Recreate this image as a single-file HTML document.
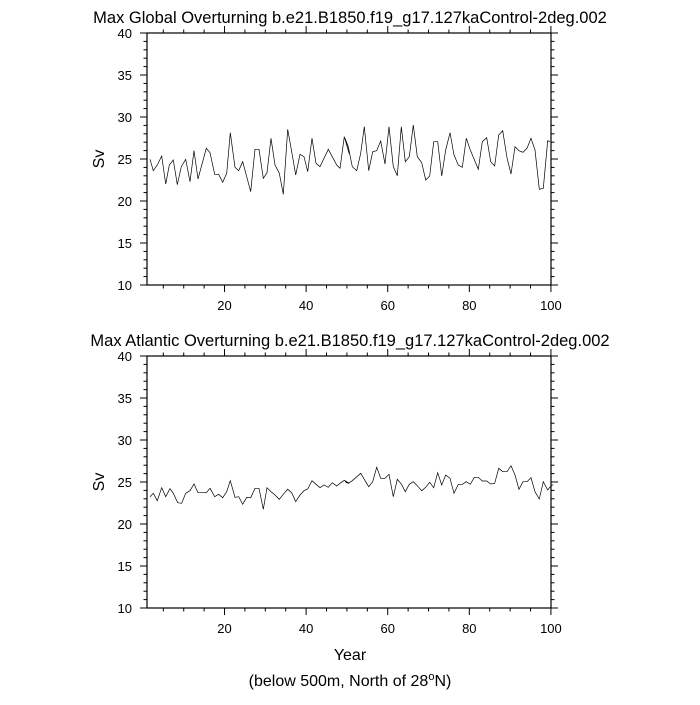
<!DOCTYPE html>
<html><head><meta charset="utf-8"><style>
body{margin:0;background:#fff}
svg{font-family:"Liberation Sans",sans-serif}
</style></head><body>
<svg id="s" width="700" height="700" xmlns="http://www.w3.org/2000/svg">
<rect width="700" height="700" fill="#fff"/>
<text x="350" y="23" font-size="16.5" text-anchor="middle">Max Global Overturning b.e21.B1850.f19_g17.127kaControl-2deg.002</text>
<text x="350" y="346" font-size="16.5" text-anchor="middle">Max Atlantic Overturning b.e21.B1850.f19_g17.127kaControl-2deg.002</text>
<text x="350" y="660" font-size="16" text-anchor="middle">Year</text>
<text x="350" y="686" font-size="16" text-anchor="middle">(below 500m, North of 28<tspan dy="-6" font-size="11">o</tspan><tspan dy="6">N)</tspan></text>
<text transform="translate(104,159) rotate(-90)" font-size="16" text-anchor="middle">Sv</text>
<text transform="translate(104,482) rotate(-90)" font-size="16" text-anchor="middle">Sv</text>
</svg>
<script>
var s=document.getElementById('s'),NS='http://www.w3.org/2000/svg';
function el(t,a,txt){var e=document.createElementNS(NS,t);for(var k in a)e.setAttribute(k,a[k]);if(txt!=null)e.textContent=txt;s.appendChild(e);return e;}
var X0=147,X1=551;function xp(yr){return 147+(yr-1)*4.08;}
function axes(top){var bot=top+252;
 el('rect',{x:X0,y:top,width:X1-X0,height:252,fill:'none',stroke:'#000','stroke-width':1.2});
 for(var v=10;v<=40;v++){var y=bot-(v-10)*8.4,L=(v%5==0)?7:3.5;
  el('line',{x1:X0,x2:X0-L,y1:y,y2:y,stroke:'#000'});el('line',{x1:X1,x2:X1+L,y1:y,y2:y,stroke:'#000'});
  if(v%5==0)el('text',{x:X0-15,y:y+5,'font-size':13,'text-anchor':'end'},v);}
 for(var yr=5;yr<=100;yr+=5){var x=xp(yr),L=(yr%20==0)?7:3.5;
  el('line',{x1:x,x2:x,y1:bot,y2:bot+L,stroke:'#000'});el('line',{x1:x,x2:x,y1:top,y2:top-L,stroke:'#000'});
  if(yr%20==0)el('text',{x:x,y:bot+25,'font-size':13,'text-anchor':'middle'},yr);}
}
axes(33);axes(356);
function line(ox,oy,pts){var p=[];for(var i=0;i<pts.length;i+=2)p.push((ox+pts[i]/3).toFixed(1)+','+(oy+pts[i+1]/3).toFixed(1));return p;}
var a=line(140,110,[30,148,40,182,52,165,65,138,77,222,88,165,100,150,112,224,124,170,137,148,150,215,162,122,174,207,199,115,210,128,224,193,236,193,248,217,260,190,271,68,285,172,296,182,308,155,332,245,345,118,357,118,370,205,381,188,393,85,405,165,418,190,430,253,443,58,455,125,467,195,480,133,492,140,503,185,516,85,528,160,540,170,565,118,590,165,600,175,613,80,628,132]);
var b=line(345,110,[0,85,10,110,22,170,35,182,47,130,58,50,71,182,83,125,95,122,107,93,120,162,132,50,145,170,157,197,169,50,181,155,193,140,205,45,217,140,230,158,242,210,254,198,266,95,278,95,290,198,302,120,315,68,327,135,340,165,352,172,364,85,376,120,400,178,412,95,425,83,437,155,449,168,461,75,473,62,486,143,498,192,510,110,522,122,534,127,546,115,558,85,570,120,583,238,595,235,608,92,615,95]);
el('polyline',{points:a.concat(b).join(' '),fill:'none',stroke:'#000','stroke-width':0.7});
var c=line(140,450,[30,140,40,130,52,152,65,113,77,140,90,116,100,130,113,158,125,160,137,130,150,122,162,102,174,128,186,128,199,128,210,115,224,140,236,133,248,143,260,125,271,92,285,142,296,140,308,163,320,142,332,143,345,115,357,115,370,178,381,113,393,125,405,135,418,148,430,133,443,118,455,128,467,155,480,135,492,122,503,117,516,92,528,103,540,113,552,105,565,112,577,98,590,108,600,100,613,91,628,100]);
var d=line(345,450,[0,95,10,100,22,92,47,70,71,110,83,95,95,52,107,85,120,85,132,73,145,140,157,88,169,102,181,125,193,103,205,95,217,107,230,122,242,112,254,97,266,113,278,68,290,105,302,75,315,85,327,130,340,103,352,103,364,95,376,103,388,82,400,82,412,93,425,93,437,102,449,100,461,55,473,65,486,65,498,47,510,75,522,118,534,95,546,95,558,83,570,125,583,147,595,95,608,120,620,105,625,105]);
el('polyline',{points:c.concat(d).join(' '),fill:'none',stroke:'#000','stroke-width':0.7});
</script>
</body></html>
